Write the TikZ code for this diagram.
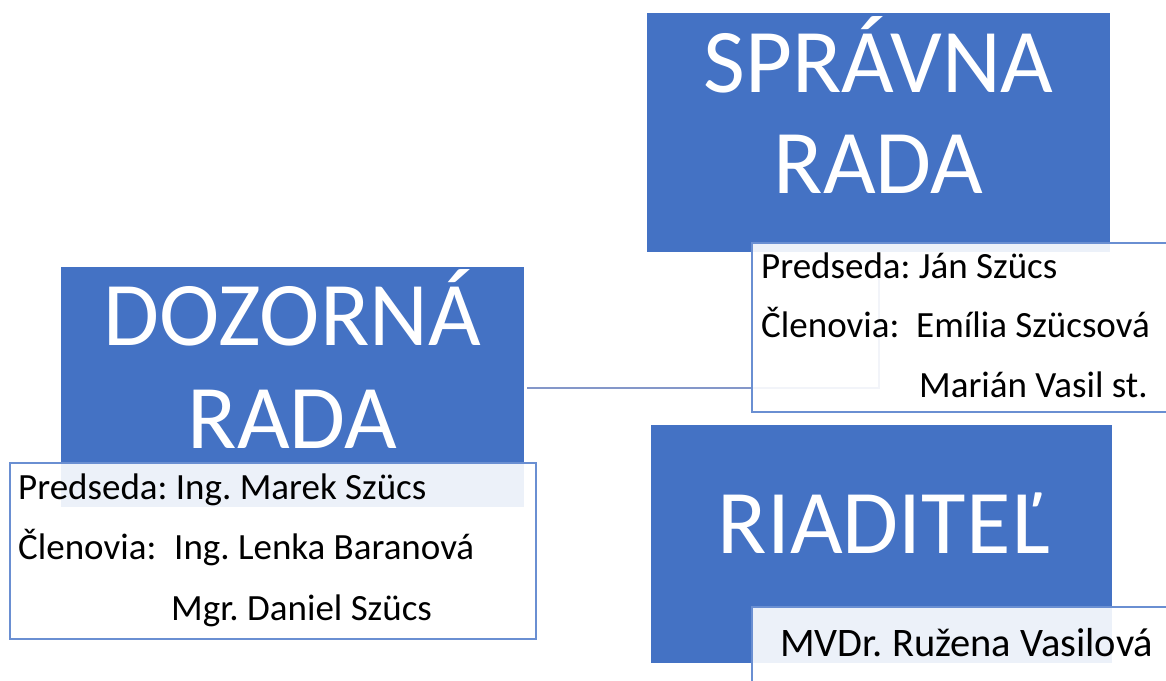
\documentclass[tikz,border=0pt]{standalone}
\usepackage{fontspec}
\setmainfont{Carlito}
\frenchspacing
\definecolor{obox}{HTML}{4472C4}
\definecolor{tbord}{HTML}{6A8FD2}
\definecolor{connc}{HTML}{8497C9}
\pgfdeclarelayer{bgpaper}
\pgfdeclarelayer{background}
\pgfsetlayers{bgpaper,background,main}
\begin{document}
\begin{tikzpicture}[x=1pt,y=-1pt,
  bluebox/.style={rectangle, fill=obox, draw=none, inner sep=0pt},
  textbox/.style={rectangle, fill=white, fill opacity=0.9, draw=tbord, line width=1.2pt, inner sep=0pt},
  hdr/.style={text=white, font=\fontsize{91}{101}\selectfont, inner sep=0pt, anchor=base},
  body/.style={text=black, font=\fontsize{37}{44}\selectfont, inner sep=0pt, anchor=base west},
  bigbody/.style={body, font=\fontsize{40.5}{48}\selectfont},
  conn/.style={draw=connc, line width=2pt}]
\useasboundingbox (0,0) rectangle (1166,680);
\begin{pgfonlayer}{bgpaper}
\fill[white] (0,0) rectangle (1166,680);
\end{pgfonlayer}
% blue boxes
\node[bluebox, minimum width=463pt, minimum height=239pt] (sprav) at (878.5,132.5) {};
\node[bluebox, minimum width=463pt, minimum height=240pt] (dozor) at (292.5,387) {};
\node[bluebox, minimum width=461pt, minimum height=238pt] (riad) at (881.5,544) {};
% connector (behind)
\begin{pgfonlayer}{background}
\draw[conn] ([xshift=3pt,yshift=-1pt]dozor.east) -| (sprav.south);
\end{pgfonlayer}
% headers
\node[hdr] (sr1) at (878.5,92) {SPRÁVNA};
\node[hdr] (sr2) at (878.5,193) {RADA};
\node[hdr] (dr1) at (292.5,345) {DOZORNÁ};
\node[hdr] (dr2) at (292.5,448) {RADA};
\node[hdr] (ri1) at (883.5,553) {RIADITEĽ};
% text boxes
\node[textbox, minimum width=430pt, minimum height=169pt] (spravt) at (967,327.5) {};
\node[textbox, minimum width=526pt, minimum height=176pt] (dozort) at (273,551) {};
\node[textbox, minimum width=430pt, minimum height=100pt] (riadt) at (967,657) {};
% body texts
\node[body] (sp1) at (761,278) {Predseda: Ján Szücs};
\node[body] (sp2) at (761,337) {Členovia:};
\node[body] (sp3) at (916,337) {Emília Szücsová};
\node[body] (sp4) at (919,397) {Marián Vasil st.};
\node[body] (dz1) at (18,499) {Predseda: Ing. Marek Szücs};
\node[body] (dz2) at (18,559) {Členovia:};
\node[body] (dz3) at (174,559) {Ing. Lenka Baranová};
\node[body] (dz4) at (171,620) {Mgr. Daniel Szücs};
\node[bigbody] (ri2) at (780,656) {MVDr. Ružena Vasilová};
\end{tikzpicture}
\end{document}
